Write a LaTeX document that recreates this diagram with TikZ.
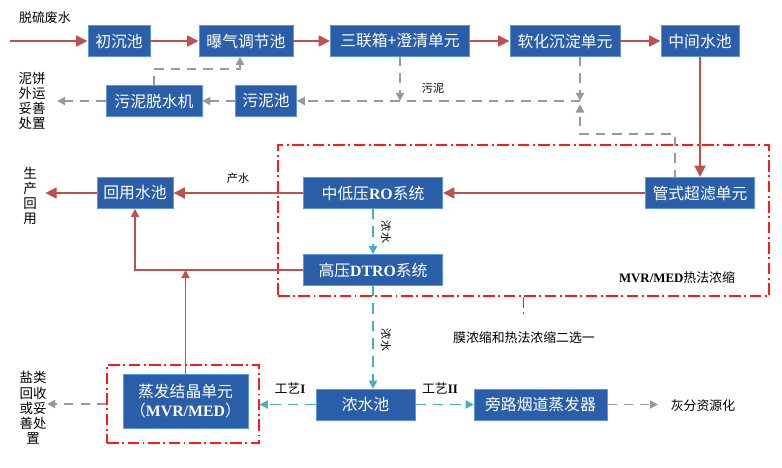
\documentclass[tikz,border=0pt]{standalone}
\usepackage{fontspec}
\setmainfont{Noto Sans CJK SC}
\newfontfamily\tnr{Liberation Serif}
\usepackage{xcolor}
\usepackage{tikz}
\usetikzlibrary{arrows.meta,positioning}
\definecolor{boxblue}{HTML}{2A5EA8}
\definecolor{boxedge}{HTML}{5B9BD5}
\definecolor{flowred}{HTML}{C0504D}
\definecolor{mudgray}{HTML}{999999}
\definecolor{brinecyan}{HTML}{4BACC6}
\definecolor{framered}{HTML}{FF1A1A}
\newcommand\engb[1]{{\tnr\bfseries #1}}

\begin{document}
\begin{tikzpicture}[x=0.03cm, y=-0.03cm,
  box/.style={draw=boxedge, fill=boxblue, text=white, minimum height=0.93cm,
              inner sep=1pt, align=center, font=\fontsize{13.5}{16}\selectfont},
  main/.style={-{Triangle[length=10pt,width=9pt]}, flowred, line width=2.5pt},
  back/.style={-{Triangle[length=7pt,width=7pt]}, flowred, line width=1.3pt},
  mud/.style={-{Triangle[length=7pt,width=7pt]}, mudgray, line width=1.5pt,
              dash pattern=on 8pt off 6pt},
  brine/.style={-{Triangle[length=7pt,width=7pt]}, brinecyan, line width=1.5pt,
                dash pattern=on 9pt off 6pt},
  frame/.style={draw=framered, line width=1.2pt,
                dash pattern=on 10pt off 3pt on 1.5pt off 3pt},
  lbl/.style={font=\fontsize{11}{13}\selectfont},
  small/.style={font=\fontsize{9.5}{11}\selectfont},
  col/.style={align=center, font=\fontsize{11.5}{13}\selectfont}
]
  \useasboundingbox (0,0) rectangle (782,467);

  % first row
  \node[box, minimum width=1.86cm] (c1) at (119,41) {初沉池};
  \node[box, minimum width=2.82cm] (c2) at (246,41) {曝气调节池};
  \node[box, minimum width=4.17cm] (c3) at (400,41) {三联箱+澄清单元};
  \node[box, minimum width=3.3cm]  (c4) at (565,41) {软化沉淀单元};
  \node[box, minimum width=2.34cm] (c5) at (700,41) {中间水池};
  \coordinate (feedin) at (10,41);
  \node[lbl] (feed) at (45,18) {脱硫废水};
  \draw[main] (feedin) -- (c1);
  \draw[main] (c1) -- (c2);
  \draw[main] (c2) -- (c3);
  \draw[main] (c3) -- (c4);
  \draw[main] (c4) -- (c5);

  % sludge line
  \node[box, minimum width=2.88cm] (dw) at (154,101) {污泥脱水机};
  \node[box, minimum width=1.83cm] (sp) at (266,101) {污泥池};
  \node[col] (cake) at (32,101) {泥饼\\外运\\妥善\\处置};
  \node[small] (mudlbl) at (433,88) {污泥};
  \coordinate (j1) at (400,101);
  \coordinate (j2) at (580,101);
  \coordinate (j3) at (675,134);
  \coordinate (j4) at (240,69);
  \coordinate (cakeout) at (57,101);
  \draw[mud] (c3.south) -- (j1);
  \draw[mud] (j2 |- c4.south) -- (j2);
  \draw[mud] (j3 |- 0,179) -- (j3) -| ([yshift=-0.1cm]j2);
  \draw[mud] (j2) -- (sp);
  \draw[mud] (sp) -- (dw);
  \draw[mud] (dw) -- (cakeout);
  \draw[mud] (dw.north) |- (j4) -- (j4 |- c2.south);

  % membrane part
  \node[frame, minimum width=14.73cm, minimum height=4.53cm] (memb) at (523.5,220.5) {};
  \node[box, minimum width=2.28cm] (reuse) at (135,193) {回用水池};
  \node[box, minimum width=4.17cm] (ro) at (373,193) {中低压\engb{RO}系统};
  \node[box, minimum width=3.27cm] (uf) at (700,193) {管式超滤单元};
  \node[box, minimum width=4.17cm] (dtro) at (373,270) {高压\engb{DTRO}系统};
  \node[col] (use) at (30,196) {生\\产\\回\\用};
  \node[small] (prod) at (238,178) {产水};
  \node[small, rotate=-90] (conc1) at (386,232) {浓水};
  \node[lbl] (therm) at (677,278) {\engb{MVR/MED}热法浓缩};
  \node[lbl] (choice) at (524,338) {膜浓缩和热法浓缩二选一};
  \coordinate (useout) at (45,193);
  \draw[main] (c5) -- (uf);
  \draw[main] (uf) -- (ro);
  \draw[main] (ro) -- (reuse);
  \draw[main] (reuse) -- (useout);
  \draw[back] (dtro.west) -| (reuse.south);
  \draw[brine] (ro) -- (dtro);
  \draw[frame] (memb.south) -- +(0,19);

  % bottom row
  \node[frame, minimum width=4.56cm, minimum height=2.34cm] (evf) at (183,404) {};
  \node[box, minimum width=3.75cm, minimum height=1.62cm] (evap) at (185.5,401)
       {蒸发结晶单元\\（\engb{MVR/MED}）};
  \node[box, minimum width=2.97cm] (pool) at (365.5,404.5) {浓水池};
  \node[box, minimum width=3.99cm] (flue) at (540.5,404.5) {旁路烟道蒸发器};
  \node[col] (salt) at (33,408) {盐类\\回收\\或妥\\善处\\置};
  \node[lbl] (ashlbl) at (703,406) {灰分资源化};
  \node[lbl] (way1) at (290,388) {工艺\engb{I}};
  \node[lbl] (way2) at (440,388) {工艺\engb{II}};
  \node[small, rotate=-90] (conc2) at (386,340) {浓水};
  \coordinate (saltout) at (47,404);
  \coordinate (ashout) at (658,404.5);
  \draw[back] (evap.north) -- (evap.north |- dtro.west);
  \draw[brine] (dtro.south) -- (dtro.south |- pool.north);
  \draw[brine] (pool) -- (evf.east |- pool.west);
  \draw[brine] (pool) -- (flue);
  \draw[mud] (flue) -- (ashout);
  \draw[mud] (evf.west |- saltout) -- (saltout);
\end{tikzpicture}
\end{document}
